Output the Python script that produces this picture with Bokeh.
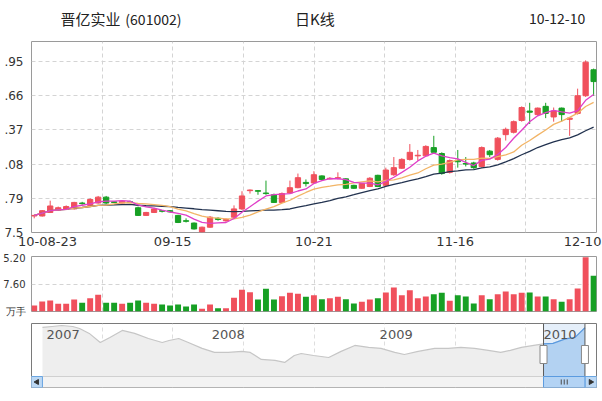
import pandas as pd
from bokeh.plotting import figure
from bokeh.layouts import column
from bokeh.models import Range1d, FixedTicker, ColumnDataSource
from bokeh.embed import file_html
from bokeh.resources import INLINE
from bokeh.core.properties import value

# ---------------- data ----------------
title_name = "晋亿实业"
title_code = "(601002)"
title_kind = "日K线"
title_date = "10-12-10"

opens = [7.64, 7.64, 7.67, 7.69, 7.695, 7.70, 7.75, 7.73, 7.75, 7.80,
         7.76, 7.75, 7.76, 7.71, 7.645, 7.67, 7.685, 7.685, 7.645, 7.60,
         7.58, 7.505, 7.545, 7.62, 7.60, 7.63, 7.70, 7.855, 7.855, 7.835,
         7.82, 7.755, 7.835, 7.88, 7.925, 7.92, 7.98, 7.955, 7.96, 7.955,
         7.90, 7.875, 7.89, 7.985, 7.90, 7.99, 8.045, 8.12, 8.15, 8.15,
         8.22, 8.17, 8.01, 8.11, 8.085, 8.09, 8.06, 8.19, 8.12, 8.33,
         8.35, 8.45, 8.53, 8.50, 8.57, 8.48, 8.555, 8.46, 8.51, 8.66, 8.88]
highs = [7.65, 7.69, 7.77, 7.72, 7.73, 7.76, 7.76, 7.79, 7.81, 7.81,
         7.765, 7.77, 7.77, 7.72, 7.675, 7.71, 7.69, 7.69, 7.65, 7.62,
         7.585, 7.55, 7.64, 7.63, 7.62, 7.73, 7.85, 7.865, 7.86, 7.94,
         7.83, 7.84, 7.94, 8.00, 7.95, 8.02, 7.985, 7.97, 8.01, 7.96,
         7.905, 7.92, 7.97, 7.99, 8.05, 8.14, 8.13, 8.25, 8.20, 8.24,
         8.32, 8.18, 8.12, 8.20, 8.14, 8.10, 8.23, 8.20, 8.31, 8.39,
         8.45, 8.57, 8.60, 8.56, 8.60, 8.56, 8.56, 8.48, 8.72, 8.96, 8.89]
lows = [7.62, 7.635, 7.665, 7.685, 7.69, 7.695, 7.735, 7.725, 7.745, 7.74,
        7.75, 7.745, 7.75, 7.64, 7.64, 7.665, 7.67, 7.67, 7.58, 7.585,
        7.525, 7.50, 7.54, 7.60, 7.59, 7.62, 7.69, 7.83, 7.82, 7.82,
        7.75, 7.75, 7.83, 7.875, 7.89, 7.91, 7.94, 7.95, 7.95, 7.87,
        7.87, 7.87, 7.885, 7.885, 7.895, 7.98, 8.04, 8.11, 8.11, 8.145,
        8.175, 7.99, 8.00, 8.05, 8.06, 8.04, 8.05, 8.14, 8.11, 8.28,
        8.34, 8.44, 8.42, 8.49, 8.47, 8.44, 8.44, 8.32, 8.50, 8.65, 8.66]
closes = [7.645, 7.685, 7.725, 7.71, 7.72, 7.755, 7.745, 7.78, 7.80, 7.75,
          7.755, 7.765, 7.755, 7.645, 7.67, 7.70, 7.68, 7.675, 7.585, 7.595,
          7.53, 7.545, 7.63, 7.61, 7.61, 7.70, 7.81, 7.86, 7.85, 7.83,
          7.755, 7.83, 7.88, 7.965, 7.915, 7.99, 7.95, 7.96, 7.965, 7.875,
          7.875, 7.915, 7.96, 7.89, 8.03, 8.05, 8.12, 8.18, 8.155, 8.23,
          8.18, 8.00, 8.11, 8.10, 8.08, 8.05, 8.22, 8.16, 8.30, 8.375,
          8.44, 8.56, 8.52, 8.555, 8.51, 8.53, 8.50, 8.47, 8.66, 8.945, 8.78]
volumes = [1.66, 2.76, 3.04, 2.12, 2.12, 3.32, 2.39, 3.68, 4.60, 2.39,
           2.39, 2.12, 2.39, 3.04, 2.39, 2.12, 1.93, 1.66, 1.93, 1.38,
           1.93, 0.74, 1.93, 0.92, 0.92, 3.78, 5.99, 5.34, 3.32, 6.26,
           3.32, 4.24, 5.16, 4.88, 4.05, 4.51, 3.41, 3.68, 4.05, 3.41,
           2.21, 2.67, 3.32, 3.68, 5.25, 6.63, 4.51, 5.89, 3.68, 4.14,
           4.79, 5.16, 2.95, 4.51, 4.14, 2.21, 4.51, 3.41, 4.79, 5.53,
           4.79, 5.16, 5.25, 4.14, 4.14, 3.41, 2.67, 3.41, 6.35, 15.0, 9.85]

date_labels = ["10-08-23", "09-15", "10-21", "11-16", "12-10"]
price_ticks = [7.5, 7.79, 8.08, 8.37, 8.66, 8.95]
price_tick_labels = ["7.5", ".79", ".08", ".37", ".66", ".95"]
vol_ticks = [0, 7.6, 15.2]
vol_tick_labels = ["万手", "7.60", "5.20"]

# navigator (decimal year, price)
nav_t = [2007.00, 2007.07, 2007.14, 2007.22, 2007.27, 2007.34, 2007.42, 2007.49,
         2007.58, 2007.67, 2007.77, 2007.87, 2007.92, 2007.99, 2008.06, 2008.16,
         2008.25, 2008.35, 2008.45, 2008.51, 2008.59, 2008.69, 2008.76, 2008.83,
         2008.88, 2008.97, 2009.08, 2009.17, 2009.27, 2009.37, 2009.46, 2009.56,
         2009.63, 2009.73, 2009.85, 2009.95, 2010.04, 2010.14, 2010.24, 2010.33,
         2010.40, 2010.48, 2010.57, 2010.641, 2010.71, 2010.80, 2010.87, 2010.942]
nav_v = [8.80, 8.87, 8.94, 8.87, 8.73, 8.38, 7.74, 8.09,
         8.59, 8.38, 8.02, 7.74, 7.88, 8.02, 7.74, 7.32,
         7.04, 7.04, 7.11, 7.04, 6.54, 6.47, 6.33, 6.82,
         6.96, 6.82, 6.68, 7.11, 7.53, 7.39, 7.32, 7.04,
         6.89, 7.11, 7.32, 7.32, 7.39, 7.32, 7.18, 7.04,
         7.18, 7.39, 7.53, 7.64, 7.68, 7.99, 8.10, 8.78]
nav_years = ["2007", "2008", "2009", "2010"]
nav_year_pos = [2007.03, 2008.23, 2009.45, 2010.64]
sel_start = 2010.641
sel_end = 2010.942

# ---------------- styling ----------------
UP = "#f0505c"
DOWN = "#17a024"
W = 602
FL, FR = 29, 6
FONT = "DejaVu Sans"
GRID = "#d4d4d4"

n = len(closes)
df = pd.DataFrame({"i": list(range(n)), "open": opens, "high": highs,
                   "low": lows, "close": closes, "vol": volumes})
df["color"] = [UP if c >= o else DOWN for o, c in zip(df.open, df.close)]
df["top"] = df[["open", "close"]].max(axis=1)
df["bottom"] = df[["open", "close"]].min(axis=1)
df["ma5"] = df.close.rolling(5, min_periods=1).mean()
df["ma10"] = df.close.rolling(10, min_periods=1).mean()
df["ma20"] = df.close.rolling(20, min_periods=1).mean()
src = ColumnDataSource(df)

x_lo, x_hi = -0.34, n - 1 + 0.36
xr = Range1d(x_lo, x_hi)
grid_x = [x_lo + k * (x_hi - x_lo) / 8 for k in range(1, 8)]
label_x = [x_lo + 2.0, grid_x[1], grid_x[3], grid_x[5], x_hi - 1.75]


def base(h, top, bottom, x_range, y_range, **kw):
    p = figure(width=W, height=h, x_range=x_range, y_range=y_range,
               output_backend="svg", toolbar_location=None,
               min_border_left=FL, min_border_right=FR,
               min_border_top=top, min_border_bottom=bottom, **kw)
    p.outline_line_color = "#9a9a9a"
    p.background_fill_color = "white"
    p.border_fill_color = "white"
    for ax in p.axis:
        ax.axis_line_color = None
        ax.major_tick_line_color = None
        ax.minor_tick_line_color = None
        ax.major_tick_out = 0
        ax.major_tick_in = 0
        ax.major_label_text_font = FONT
        ax.major_label_text_color = "#333333"
    for g in p.grid:
        g.grid_line_color = GRID
        g.grid_line_dash = "4 3"
    return p


# title strip
tf = figure(width=W, height=40, x_range=Range1d(0, W), y_range=Range1d(0, 40),
            output_backend="svg", toolbar_location=None, min_border=0,
            x_axis_location=None, y_axis_location=None)
tf.outline_line_color = None
tf.grid.visible = False
tf.border_fill_color = "white"
cjk = value("Noto Sans CJK SC")
tf.text(x=[31], y=[22], text=[title_name], text_font=cjk, text_font_size="15px",
        text_baseline="middle", text_align="left", text_color="#222222")
tf.text(x=[100], y=[22], text=[title_code], text_font=cjk, text_font_size="14px",
        text_baseline="middle", text_align="left", text_color="#222222")
tf.text(x=[302], y=[22], text=[title_kind], text_font=cjk, text_font_size="15px",
        text_baseline="middle", text_align="center", text_color="#222222")
tf.text(x=[590], y=[22], text=[title_date], text_font=cjk, text_font_size="14px",
        text_baseline="middle", text_align="right", text_color="#222222")

# main candlestick panel
main = base(212, 1, 20, xr, Range1d(7.5, 9.12))
main.yaxis.ticker = FixedTicker(ticks=price_ticks)
main.yaxis.major_label_overrides = dict(zip(price_ticks, price_tick_labels))
main.yaxis.major_label_standoff = 8
main.yaxis.major_label_text_font_size = "12px"
main.xaxis.ticker = FixedTicker(ticks=label_x)
main.xaxis.major_label_overrides = dict(zip(label_x, date_labels))
main.xaxis.major_label_standoff = 4
main.xaxis.major_label_text_font_size = "13px"
main.xgrid.ticker = FixedTicker(ticks=grid_x)
main.ygrid.ticker = FixedTicker(ticks=price_ticks)

main.segment(x0="i", y0="high", x1="i", y1="low", color="color", line_width=1, source=src)
main.vbar(x="i", top="top", bottom="bottom", width=0.66, fill_color="color",
          line_color="color", source=src)
main.line("i", "ma20", color="#22324f", line_width=1.3, source=src)
main.line("i", "ma10", color="#f2b466", line_width=1.3, source=src)
main.line("i", "ma5", color="#e03fc8", line_width=1.3, source=src)

# volume panel
vol = base(66, 4, 7, xr, Range1d(0, 15.2), x_axis_location=None)
vol.yaxis.ticker = FixedTicker(ticks=vol_ticks)
vol.yaxis.major_label_overrides = dict(zip(vol_ticks, vol_tick_labels))
vol.yaxis.major_label_standoff = 6
vol.yaxis.major_label_text_font_size = "10px"
vol.xgrid.ticker = FixedTicker(ticks=grid_x)
vol.ygrid.ticker = FixedTicker(ticks=[vol_ticks[1]])
vol.vbar(x="i", top="vol", bottom=0, width=0.74, fill_color="color",
         line_color=None, source=src)

# navigator panel
t_lo, t_hi = 2006.9203, 2011.026
v_lo, v_hi = 4.56, 9.08
scroll_top = v_lo + (11 / 64) * (v_hi - v_lo)
nav = base(83, 5, 14, Range1d(t_lo, t_hi), Range1d(v_lo, v_hi),
           x_axis_location=None, y_axis_location=None)
nav.outline_line_color = "#7a7a7a"
nav.xgrid.ticker = FixedTicker(ticks=[t_lo + k * (t_hi - t_lo) / 8 for k in range(1, 8)])
nav.xgrid.grid_line_color = "#dedede"
nav.ygrid.visible = False

nav.varea(x=nav_t, y1=[scroll_top] * len(nav_t), y2=nav_v, fill_color="#eeeeee")
nav.line(nav_t, nav_v, color="#c6c6c6", line_width=1.2)
sel_t = [t for t in nav_t if t >= sel_start]
sel_v = [v for t, v in zip(nav_t, nav_v) if t >= sel_start]
nav.quad(left=[sel_start], right=[sel_end], bottom=[scroll_top], top=[v_hi],
         fill_color="#d3e5f7", fill_alpha=0.6, line_color=None)
nav.varea(x=sel_t, y1=[scroll_top] * len(sel_t), y2=sel_v, fill_color="#b3d2f2")
nav.line(sel_t, sel_v, color="#5a9ae0", line_width=1.2)
for t in (sel_start, sel_end):
    nav.segment(x0=[t], y0=[v_lo], x1=[t], y1=[v_hi], color="#5a5a5a", line_width=1)
# scrollbar
nav.quad(left=[t_lo], right=[t_hi], bottom=[v_lo], top=[scroll_top],
         fill_color="#f3f3f3", line_color="#d0d0d0")
nav.quad(left=[t_lo], right=[nav_t[0]], bottom=[v_lo], top=[scroll_top],
         fill_color="#bcd8f4", line_color="#6aa6e2")
nav.quad(left=[sel_end], right=[t_hi], bottom=[v_lo], top=[scroll_top],
         fill_color="#bcd8f4", line_color="#6aa6e2")
nav.quad(left=[sel_start], right=[sel_end], bottom=[v_lo], top=[scroll_top],
         fill_color="#b3d3f4", line_color="#5b9be0")
mid_s = (v_lo + scroll_top) / 2
nav.scatter(x=[(t_lo + nav_t[0]) / 2], y=[mid_s], marker="triangle", angle=1.5708,
            size=5, color="#333333")
nav.scatter(x=[(sel_end + t_hi) / 2], y=[mid_s], marker="triangle", angle=-1.5708,
            size=5, color="#333333")
cg = (sel_start + sel_end) / 2
dt = 3 / 138.1
nav.segment(x0=[cg - dt, cg, cg + dt], x1=[cg - dt, cg, cg + dt],
            y0=[mid_s - 0.18] * 3, y1=[mid_s + 0.18] * 3, color="#4a4a4a", line_width=1)
# handles
hy = v_lo + (33 / 64) * (v_hi - v_lo)
nav.rect(x=[sel_start, sel_end], y=[hy, hy], width=7, height=18,
         width_units="screen", height_units="screen",
         fill_color="white", line_color="#888888")
nav.text(x=nav_year_pos, y=[8.31] * len(nav_year_pos), text=nav_years,
         text_font=value(FONT), text_font_size="13px", text_baseline="middle",
         text_align="left", text_color="#555555")

layout = column(tf, main, vol, nav, spacing=0)
open("out.html", "w").write(file_html(layout, INLINE))
